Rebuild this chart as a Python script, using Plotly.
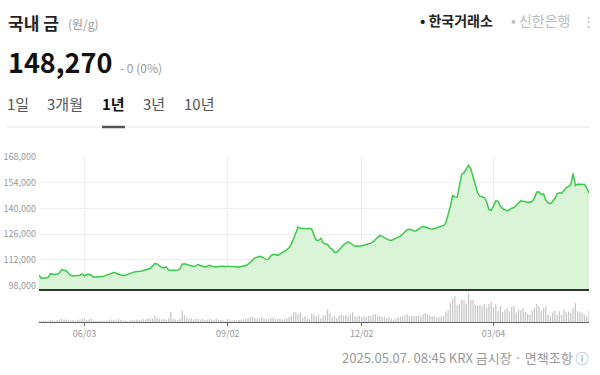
import pandas as pd
import plotly.graph_objects as go

# KRX closed days inside the one-year window
HOLIDAYS = ['2024-05-06', '2024-05-15', '2024-06-06', '2024-08-15', '2024-09-16', '2024-09-17',
            '2024-09-18', '2024-10-01', '2024-10-03', '2024-10-09', '2024-12-25', '2024-12-31',
            '2025-01-01', '2025-01-27', '2025-01-28', '2025-01-29', '2025-01-30', '2025-03-03',
            '2025-05-01']
dates = [d.strftime('%Y-%m-%d') for d in pd.bdate_range('2024-05-02', '2025-05-02')
         if d.strftime('%Y-%m-%d') not in HOLIDAYS]

prices = [
    103850, 102040, 102040, 102200, 102400, 104400, 104050, 104050, 104400, 104950,
    106770, 106580, 106040, 104780, 103680, 103320, 103500, 103500, 103680, 104400,
    103320, 104050, 104230, 103680, 102580, 102760, 102760, 102760, 102940, 103320,
    103680, 104050, 104780, 105320, 104600, 104230, 103850, 103500, 103680, 104230,
    104780, 105130, 105500, 105680, 105680, 105860, 106220, 106580, 106800, 107500,
    108770, 110050, 109870, 108590, 107860, 107680, 108220, 106580, 106220, 106400,
    106400, 106580, 107130, 109680, 109870, 109500, 109320, 109140, 108410, 108770,
    109500, 108950, 108410, 108220, 108590, 109140, 108590, 108220, 108220, 108410,
    108590, 108590, 108410, 108590, 108410, 108410, 108220, 108220, 108220, 108410,
    108590, 108950, 109680, 110780, 112050, 113150, 113510, 113950, 113690, 113140,
    112230, 112600, 114240, 114970, 114970, 114420, 115150, 116060, 116600, 117520,
    118610, 120620, 123530, 126990, 129910, 129180, 129000, 128820, 129000, 129180,
    128820, 125500, 122800, 122440, 123800, 121350, 120620, 120430, 118520, 117970,
    116240, 116150, 117240, 118790, 120250, 121160, 121890, 121340, 120070, 119340,
    119700, 119430, 119700, 119980, 120440, 120890, 121160, 121890, 122980, 124080,
    125350, 124800, 124080, 123530, 122800, 122620, 123170, 123710, 124440, 124990,
    126080, 127360, 128450, 128630, 128450, 127720, 127900, 128820, 129550, 130270,
    129910, 129360, 129000, 128820, 129000, 129360, 130090, 130460, 130640, 132100,
    136110, 141210, 147040, 146310, 146130, 152140, 158700, 159430, 161620, 163440,
    161620, 156700, 152140, 148500, 146670, 146310, 145950, 143390, 139380, 139020,
    142120, 144130, 143940, 141210, 139930, 139380, 138660, 139200, 140110, 140480,
    141570, 143030, 144130, 143940, 143580, 143390, 143390, 143940, 145770, 148860,
    149050, 147590, 147950, 144490, 143030, 142670, 143760, 145400, 147950, 148500,
    148320, 149950, 151410, 151960, 153050, 159070, 152510, 153230, 153050, 153230,
    153050, 151230, 148270,
]

volumes = [
    30, 20, 30, 20, 20, 40, 30, 20, 40, 50,
    60, 40, 50, 40, 30, 40, 20, 40, 50, 60,
    80, 40, 50, 60, 30, 20, 20, 20, 30, 20,
    30, 40, 50, 40, 30, 60, 40, 30, 30, 20,
    30, 40, 40, 50, 40, 50, 60, 50, 80, 60,
    70, 130, 80, 60, 50, 60, 40, 80, 210, 60,
    50, 40, 60, 230, 140, 100, 60, 80, 50, 60,
    70, 50, 60, 40, 50, 60, 50, 40, 70, 40,
    40, 30, 20, 60, 30, 30, 40, 30, 40, 50,
    60, 70, 90, 100, 110, 80, 70, 80, 100, 80,
    60, 70, 90, 100, 60, 60, 70, 50, 60, 80,
    100, 130, 210, 200, 160, 200, 80, 120, 80, 60,
    180, 150, 120, 160, 80, 130, 150, 260, 180, 100,
    130, 80, 130, 150, 130, 140, 120, 160, 200, 120,
    110, 130, 100, 120, 110, 130, 120, 160, 160, 130,
    120, 100, 110, 90, 100, 70, 50, 70, 100, 110,
    120, 140, 160, 120, 130, 120, 130, 140, 120, 160,
    180, 160, 130, 110, 120, 90, 100, 110, 120, 200,
    240, 400, 480, 530, 350, 380, 460, 450, 370, 580,
    450, 460, 350, 330, 350, 330, 370, 300, 370, 420,
    300, 370, 220, 330, 200, 260, 290, 220, 320, 330,
    200, 260, 240, 290, 200, 170, 150, 240, 290, 370,
    330, 240, 290, 330, 150, 120, 190, 240, 150, 220,
    150, 260, 200, 220, 190, 290, 390, 220, 200, 190,
    150, 130, 230,
]

tick_dates = ['2024-06-03', '2024-09-02', '2024-12-02', '2025-03-04']
tick_labels = ['06/03', '09/02', '12/02', '03/04']
price_ticks = [98000, 112000, 126000, 140000, 154000, 168000]

KR = "Noto Sans CJK KR"

fig = go.Figure()
fig.add_trace(go.Bar(x=dates, y=volumes, marker=dict(color='#c6c6c6', line=dict(width=0)),
                     xaxis='x', yaxis='y', hoverinfo='skip'))
fig.add_trace(go.Scatter(x=dates, y=prices, mode='lines',
                         line=dict(color='#3cc84a', width=1.5),
                         fill='tozeroy', fillcolor='#d9f4d7',
                         xaxis='x2', yaxis='y2', hoverinfo='skip'))

# plot area in pixels: left 39, right 589, top 157, bottom 322
L, R, T, B = 39, 589, 157, 322
W, H = R - L, B - T


def px(x):
    return (x - L) / W


def py(y):
    return (B - y) / H


fig.update_layout(
    width=600, height=375,
    margin=dict(l=L, r=600 - R, t=T, b=375 - B, autoexpand=False),
    paper_bgcolor='white', plot_bgcolor='white',
    showlegend=False, bargap=0.45,
    font=dict(family=KR),
    xaxis=dict(type='category', domain=[0, 1], anchor='y', range=[0, len(dates) - 1],
               tickvals=tick_dates, ticktext=tick_labels, ticks='outside', ticklen=3,
               tickcolor='#666', showline=True, linecolor='#666', linewidth=1,
               showgrid=False, zeroline=False, automargin=False,
               tickfont=dict(size=9, color='#999', family=KR)),
    yaxis=dict(domain=[0, 0.176], range=[0, 600], visible=False),
    xaxis2=dict(type='category', matches='x', anchor='y2', tickvals=tick_dates,
                showticklabels=False, ticks='', showgrid=True, gridcolor='#ececec',
                gridwidth=1, showline=True, linecolor='#333', linewidth=1.5, zeroline=False),
    yaxis2=dict(domain=[0.2, 1], range=[96200, 168000], tickvals=price_ticks,
                tickformat=',d', showgrid=True, gridcolor='#efefef', zeroline=False,
                ticks='', showline=False, ticklabelstandoff=2, automargin=False,
                tickfont=dict(size=9, color='#999', family=KR)),
)

ann = []


def text(x, y, s, size, color, anchor='left', bold=False):
    ann.append(dict(xref='paper', yref='paper', x=px(x), y=py(y), text=(f'<b>{s}</b>' if bold else s),
                    showarrow=False, xanchor=anchor, yanchor='middle',
                    font=dict(size=size, color=color, family=KR)))


text(6, 22, '국내 금', 17, '#222', bold=True)
text(66, 23, '(원/g)', 12, '#999')
text(6, 61, '148,270', 27, '#111', bold=True)
text(118, 67, '- 0 (0%)', 12, '#999')
text(5, 104, '1일', 15, '#555')
text(45, 104, '3개월', 15, '#555')
text(100, 104, '1년', 15, '#111', bold=True)
text(141, 104, '3년', 15, '#555')
text(182, 104, '10년', 15, '#555')
text(495, 20, '• 한국거래소', 14, '#222', anchor='right', bold=True)
text(572, 20, '• 신한은행', 14, '#bbb', anchor='right')
text(588, 20, '⋮', 13, '#bbb', anchor='center')
text(591, 357, '2025.05.07. 08:45 KRX 금시장 · 면책조항 ⓘ', 13, '#999', anchor='right')
fig.update_layout(annotations=ann)

fig.add_shape(type='line', xref='paper', yref='paper', x0=px(7), x1=px(590),
              y0=py(127), y1=py(127), line=dict(color='#eeeeee', width=1.5))
fig.add_shape(type='line', xref='paper', yref='paper', x0=px(102), x1=px(125),
              y0=py(127), y1=py(127), line=dict(color='#555', width=2.5))

fig.write_html("out.html", config={'displayModeBar': False, 'staticPlot': True},
               post_script="document.body.style.margin='0';document.body.style.overflow='hidden';")
